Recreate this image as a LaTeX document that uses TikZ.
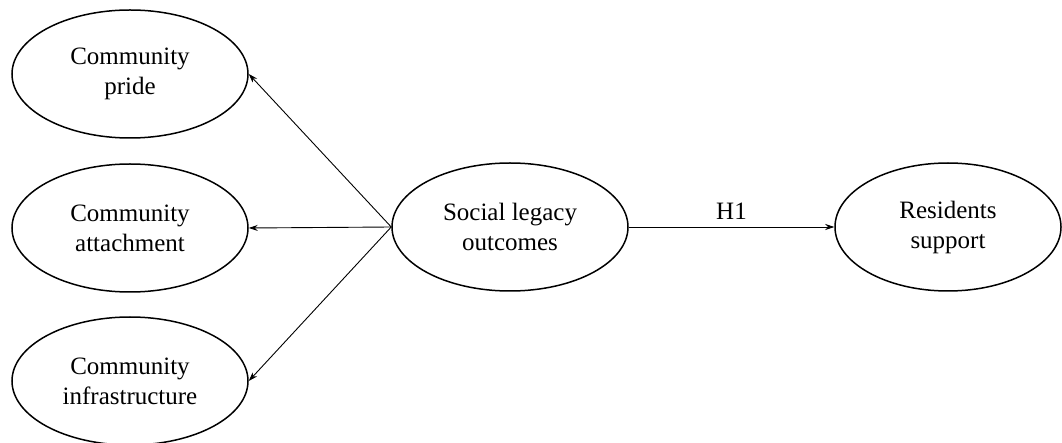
\documentclass[tikz,border=0pt]{standalone}
\usepackage{fontspec}
\setmainfont{Liberation Serif}
\usepackage{tikz}
\usetikzlibrary{shapes.geometric, arrows.meta}
\tikzset{
    construto/.style={ellipse, draw=black, line width=1.5pt, minimum width=236pt, minimum height=128pt,
        align=center, inner sep=0pt, font=\fontsize{25}{30}\selectfont},
    caminho/.style={-{Stealth[length=9pt, width=6pt]}, line width=0.9pt},
    rotulo/.style={font=\fontsize{25}{30}\selectfont, above}
}

\begin{document}
\begin{tikzpicture}[x=1pt, y=-1pt]
    \useasboundingbox (0,0) rectangle (1062,443);
    \node[construto] (orgulho) at (130,74) {Community\\pride};
    \node[construto] (apego) at (130,228) {Community\\attachment};
    \node[construto] (infra) at (130,381) {Community\\infrastructure};
    \node[construto] (legado) at (510,227) {Social legacy\\outcomes};
    \node[construto, minimum width=226pt] (apoio) at (948,227) {Residents\\support};
    \draw[caminho] (legado.west) -- (orgulho.east);
    \draw[caminho] (legado.west) -- (apego.east);
    \draw[caminho] (legado.west) -- (infra.east);
    \draw[caminho] (legado.east) -- node[rotulo, yshift=4pt] {H1} (apoio.west);
\end{tikzpicture}
\end{document}
